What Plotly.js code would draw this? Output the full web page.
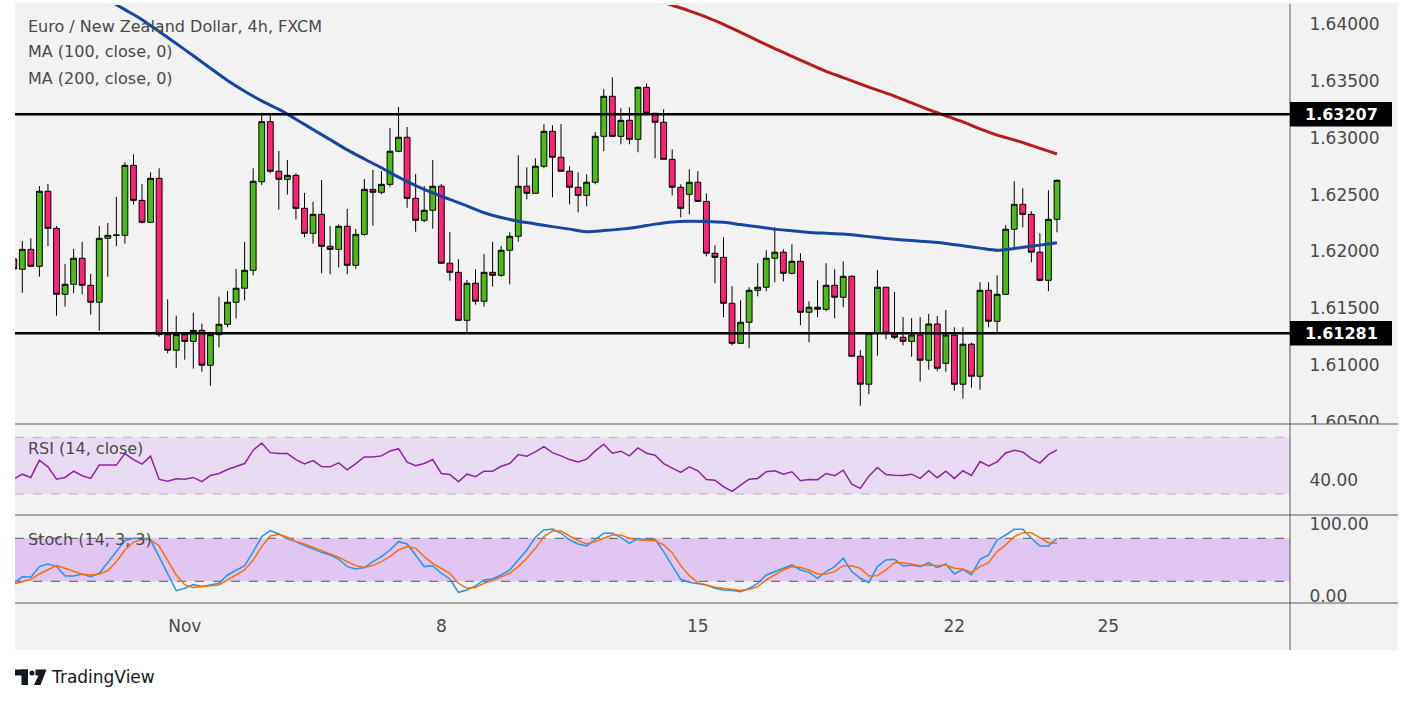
<!DOCTYPE html>
<html><head><meta charset="utf-8">
<script src="https://cdn.plot.ly/plotly-3.0.1.min.js"></script>
<style>html,body{margin:0;padding:0;background:#fff;}#chart{width:1413px;height:703px;}</style>
</head><body><div id="chart"></div>
<script>
// ---- data (bar index -1 .. 121, 4h bars) ----
const firstBar = -1;
const openP = [1.61935,1.61844,1.62019,1.61870,1.62530,1.62204,1.61624,1.61712,1.61941,1.61703,1.61554,1.62116,1.62143,1.62143,1.62758,1.62450,1.62257,1.62644,1.61269,1.61132,1.61269,1.61210,1.61307,1.61000,1.61269,1.61360,1.61554,1.61677,1.61835,1.62614,1.63142,1.62706,1.62635,1.62670,1.62380,1.62160,1.62327,1.62046,1.62019,1.62222,1.61879,1.62151,1.62547,1.62521,1.62591,1.62882,1.63005,1.62468,1.62274,1.62363,1.62574,1.61897,1.61817,1.61395,1.61721,1.61563,1.61817,1.61791,1.62011,1.62134,1.62574,1.62512,1.62750,1.63057,1.62829,1.62706,1.62565,1.62494,1.62609,1.63013,1.63365,1.63013,1.63154,1.62987,1.63444,1.63216,1.63137,1.62811,1.62565,1.62503,1.62609,1.62441,1.61985,1.61949,1.61545,1.61193,1.61378,1.61659,1.61686,1.61941,1.61994,1.61809,1.61914,1.61466,1.61510,1.61492,1.61703,1.61598,1.61782,1.61079,1.60833,1.61281,1.61686,1.61275,1.61246,1.61210,1.61266,1.61044,1.61363,1.61017,1.61266,1.60833,1.61185,1.60903,1.61659,1.61387,1.61624,1.62196,1.62415,1.62327,1.61994,1.61747,1.62283];
const highP = [1.61970,1.62092,1.62116,1.62576,1.62594,1.62224,1.61891,1.62022,1.62084,1.61803,1.62224,1.62251,1.62480,1.62785,1.62855,1.62594,1.62697,1.62732,1.61580,1.61436,1.61272,1.61462,1.61365,1.61272,1.61603,1.61653,1.61847,1.62084,1.62732,1.63221,1.63201,1.62884,1.62805,1.62688,1.62515,1.62436,1.62629,1.62224,1.62239,1.62374,1.62198,1.62638,1.62717,1.62708,1.63086,1.63271,1.63095,1.62682,1.62576,1.62805,1.62594,1.62172,1.61932,1.61750,1.61844,1.61979,1.62084,1.62048,1.62169,1.62846,1.62741,1.62820,1.63119,1.63110,1.63122,1.62750,1.62697,1.62679,1.63051,1.63427,1.63532,1.63260,1.63268,1.63453,1.63479,1.63219,1.63251,1.62899,1.62591,1.62723,1.62706,1.62512,1.62055,1.62125,1.61695,1.61571,1.61686,1.61897,1.62011,1.62213,1.62019,1.62063,1.61985,1.61563,1.61747,1.61897,1.61844,1.61914,1.61791,1.61132,1.61284,1.61838,1.61689,1.61644,1.61424,1.61413,1.61424,1.61451,1.61433,1.61486,1.61334,1.61334,1.61198,1.61730,1.61730,1.61791,1.62231,1.62618,1.62556,1.62354,1.62160,1.62539,1.62635];
const lowP = [1.61794,1.61638,1.61864,1.61779,1.62048,1.61436,1.61515,1.61633,1.61624,1.61445,1.61304,1.61779,1.62048,1.62069,1.62412,1.62248,1.62255,1.61251,1.61105,1.60978,1.61049,1.60970,1.60943,1.60820,1.61158,1.61334,1.61413,1.61571,1.61791,1.62585,1.62688,1.62368,1.62500,1.62283,1.62125,1.62069,1.61809,1.61800,1.61861,1.61800,1.61849,1.62139,1.62227,1.62503,1.62570,1.62873,1.62385,1.62174,1.62257,1.62201,1.61894,1.61744,1.61392,1.61281,1.61533,1.61515,1.61691,1.61779,1.61712,1.62087,1.62459,1.62510,1.62732,1.62477,1.62703,1.62415,1.62345,1.62398,1.62591,1.62882,1.63010,1.62943,1.62943,1.62873,1.63213,1.62820,1.62808,1.62494,1.62301,1.62327,1.62438,1.61958,1.61721,1.61422,1.61175,1.61190,1.61149,1.61606,1.61651,1.61730,1.61738,1.61800,1.61352,1.61202,1.61422,1.61475,1.61413,1.61510,1.61076,1.60644,1.60745,1.61084,1.61228,1.61228,1.61175,1.61075,1.60856,1.60961,1.60947,1.60943,1.60776,1.60706,1.60803,1.60785,1.61334,1.61281,1.61621,1.62019,1.62213,1.61905,1.61738,1.61651,1.62169];
const closeP = [1.61847,1.62019,1.61870,1.62530,1.62204,1.61624,1.61712,1.61941,1.61703,1.61554,1.62116,1.62143,1.62145,1.62758,1.62450,1.62257,1.62644,1.61269,1.61132,1.61269,1.61210,1.61307,1.61000,1.61269,1.61360,1.61554,1.61677,1.61835,1.62618,1.63142,1.62706,1.62635,1.62670,1.62380,1.62160,1.62327,1.62046,1.62019,1.62222,1.61879,1.62151,1.62547,1.62521,1.62591,1.62882,1.63005,1.62468,1.62274,1.62363,1.62574,1.61897,1.61817,1.61395,1.61721,1.61563,1.61817,1.61791,1.62011,1.62134,1.62574,1.62512,1.62750,1.63057,1.62829,1.62706,1.62565,1.62494,1.62609,1.63013,1.63365,1.63013,1.63154,1.62987,1.63444,1.63216,1.63137,1.62811,1.62565,1.62380,1.62609,1.62441,1.61985,1.61949,1.61545,1.61193,1.61378,1.61659,1.61686,1.61941,1.61994,1.61809,1.61914,1.61466,1.61510,1.61492,1.61703,1.61598,1.61782,1.61079,1.60833,1.61281,1.61686,1.61281,1.61246,1.61210,1.61266,1.61044,1.61363,1.60973,1.61266,1.60833,1.61185,1.60903,1.61659,1.61387,1.61624,1.62196,1.62415,1.62327,1.61994,1.61747,1.62283,1.62626];

// moving averages, read at sampled bar indices
const ma100Bars = [10,12,14,16,18,20,22,24,26,28,30,32,34,36,38,40,42,44,46,48,50,52,54,56,58,60,62,64,66,68,70,72,74,76,78,80,82,84,86,88,90,92,94,96,98,100,102,104,106,108,110,112,114,116,118,120,121];
const ma100 = [1.64215,1.64127,1.64039,1.63935,1.63830,1.63721,1.63612,1.63504,1.63410,1.63325,1.63250,1.63164,1.63073,1.62984,1.62894,1.62814,1.62737,1.62654,1.62580,1.62515,1.62458,1.62401,1.62341,1.62299,1.62267,1.62243,1.62219,1.62197,1.62175,1.62184,1.62197,1.62216,1.62241,1.62260,1.62266,1.62264,1.62257,1.62237,1.62217,1.62197,1.62183,1.62168,1.62161,1.62154,1.62139,1.62123,1.62108,1.62096,1.62085,1.62071,1.62051,1.62030,1.62011,1.62026,1.62047,1.62067,1.62078];
const ma200Bars = [74,76,78,80,82,84,86,88,90,92,94,96,98,100,102,104,106,108,110,112,114,116,118,120,121];
const ma200 = [1.64215,1.64166,1.64117,1.64062,1.63998,1.63928,1.63855,1.63785,1.63717,1.63650,1.63585,1.63530,1.63473,1.63420,1.63367,1.63307,1.63248,1.63194,1.63140,1.63078,1.63024,1.62981,1.62933,1.62883,1.62858];

const levels = [1.63207, 1.61281];
const levelLabels = ['1.63207', '1.61281'];

const rsi = [40.5,44.0,41.7,53.9,49.2,40.5,41.7,46.1,42.9,41.0,50.4,50.4,50.4,58.5,54.3,51.1,56.7,40.3,39.1,40.8,40.5,41.7,38.7,43.1,44.5,47.3,49.2,51.5,60.9,66.0,59.2,58.5,58.5,54.3,51.3,53.6,49.4,49.2,52.0,47.1,51.5,56.2,56.2,56.9,60.4,62.0,52.5,49.9,51.5,54.3,44.5,43.8,38.7,44.0,42.2,46.1,46.1,49.6,51.5,57.8,56.7,59.7,63.4,59.2,56.9,54.3,52.7,54.6,60.4,65.1,58.8,60.2,56.9,62.5,58.8,57.4,51.5,48.5,45.2,49.2,46.4,40.3,39.8,35.2,31.9,36.3,40.5,41.0,45.7,46.4,44.0,45.7,39.4,40.3,40.1,44.5,42.9,46.8,37.0,34.0,42.6,48.7,43.8,43.3,43.1,44.0,41.0,46.4,41.5,46.1,41.0,46.4,43.1,52.9,49.9,52.7,59.0,60.9,59.7,55.0,51.8,57.8,61.1];
const stochK = [17.0,26.5,25.6,40.5,44.2,40.5,27.4,27.4,30.2,26.5,31.2,46.0,61.4,76.7,80.0,80.0,77.7,54.4,29.8,7.0,10.2,15.3,12.6,14.9,17.2,28.8,34.9,41.8,61.4,82.3,90.7,86.0,79.1,75.3,69.8,64.6,60.4,56.7,50.7,40.5,37.2,39.1,47.4,54.4,63.7,75.3,72.1,56.7,40.5,41.8,31.2,23.2,4.6,7.9,13.5,21.9,23.2,28.8,35.8,49.8,63.7,81.4,91.6,93.0,87.0,77.7,72.1,69.3,77.7,87.0,87.0,81.4,73.0,80.0,77.7,78.6,61.4,42.8,22.8,18.6,17.2,14.9,10.2,7.9,7.0,5.6,10.2,17.2,28.8,33.5,38.1,42.8,35.8,32.5,24.2,33.5,40.5,52.1,33.5,24.2,18.1,40.5,49.8,50.7,41.4,42.8,40.5,46.0,39.1,44.2,30.2,36.7,28.8,50.7,56.7,77.7,84.6,92.5,92.5,80.0,69.3,69.3,80.0];
const stochD = [16.0,19.5,22.8,30.2,35.8,41.8,38.1,33.5,29.8,28.8,30.2,34.9,47.4,63.7,74.4,79.1,77.7,69.3,49.8,28.8,14.9,11.2,12.6,13.9,14.9,21.9,28.8,35.8,49.8,68.4,83.2,85.6,81.4,75.3,72.1,67.0,62.8,58.1,53.5,47.4,41.8,39.1,41.8,47.4,54.4,63.7,68.4,66.0,54.4,45.1,38.1,31.2,17.2,10.2,11.2,17.2,20.9,25.6,31.2,40.5,52.1,66.0,82.3,90.2,90.2,83.2,76.7,72.1,75.3,80.0,84.6,84.6,80.0,77.7,77.7,76.7,70.7,60.0,41.8,27.9,18.1,14.9,11.6,9.8,7.9,7.0,8.8,12.6,21.9,28.8,35.8,40.5,39.1,35.8,30.2,30.2,33.5,41.8,41.8,38.1,27.4,27.9,35.8,46.0,46.0,44.2,41.8,42.8,41.8,42.8,38.1,37.2,32.5,40.5,46.0,61.4,70.7,82.3,87.9,87.9,81.4,73.9,73.0];

const dayTickBars = [19, 49, 79, 109, 127];
const dayTickLabels = ['Nov', '8', '15', '22', '25'];

// ---- layout helpers (pixel -> paper) ----
const W = 1413, H = 703;
const px = v => v / W;
const py = v => 1 - v / H;
const FONT = 'DejaVu Sans';
const TXT = '#4a4a4a';
const BG = '#f2f2f2';

const bars = openP.map((_, i) => i + firstBar);

const traces = [
  {
    type: 'candlestick', x: bars, open: openP, high: highP, low: lowP, close: closeP,
    xaxis: 'x', yaxis: 'y', whiskerwidth: 0, hoverinfo: 'skip',
    increasing: {fillcolor: '#4cbb17', line: {color: '#000000', width: 1}},
    decreasing: {fillcolor: '#ff2277', line: {color: '#000000', width: 1}}
  },
  {type: 'scatter', mode: 'lines', x: ma100Bars, y: ma100, xaxis: 'x', yaxis: 'y',
   line: {color: '#1547a0', width: 3, shape: 'spline', smoothing: 0.8}, hoverinfo: 'skip'},
  {type: 'scatter', mode: 'lines', x: ma200Bars, y: ma200, xaxis: 'x', yaxis: 'y',
   line: {color: '#b71c1c', width: 3, shape: 'spline', smoothing: 0.8}, hoverinfo: 'skip'},
  {type: 'scatter', mode: 'lines', x: bars, y: rsi, xaxis: 'x', yaxis: 'y2',
   line: {color: '#8e24aa', width: 1.5}, hoverinfo: 'skip'},
  {type: 'scatter', mode: 'lines', x: bars, y: stochK, xaxis: 'x', yaxis: 'y3',
   line: {color: '#2196f3', width: 1.5}, hoverinfo: 'skip'},
  {type: 'scatter', mode: 'lines', x: bars, y: stochD, xaxis: 'x', yaxis: 'y3',
   line: {color: '#ff6d00', width: 1.5}, hoverinfo: 'skip'}
];

const shapes = [
  // chart background
  {type: 'rect', xref: 'paper', yref: 'paper', x0: px(15), x1: px(1398), y0: py(650), y1: py(3),
   fillcolor: BG, line: {width: 0}, layer: 'below'},
  // RSI band
  {type: 'rect', xref: 'paper', yref: 'y2', x0: px(15), x1: px(1290), y0: 30, y1: 70,
   fillcolor: '#eadbf4', line: {width: 0}, layer: 'below'},
  {type: 'line', xref: 'paper', yref: 'y2', x0: px(15), x1: px(1290), y0: 70, y1: 70,
   line: {color: '#b5b2b8', width: 1, dash: 'dash'}, layer: 'below'},
  {type: 'line', xref: 'paper', yref: 'y2', x0: px(15), x1: px(1290), y0: 30, y1: 30,
   line: {color: '#b5b2b8', width: 1, dash: 'dash'}, layer: 'below'},
  // Stoch band
  {type: 'rect', xref: 'paper', yref: 'y3', x0: px(15), x1: px(1290), y0: 20, y1: 80,
   fillcolor: '#e1c6f3', line: {width: 0}, layer: 'below'},
  {type: 'line', xref: 'paper', yref: 'y3', x0: px(15), x1: px(1290), y0: 80, y1: 80,
   line: {color: '#5a5560', width: 1, dash: 'dash'}, layer: 'below'},
  {type: 'line', xref: 'paper', yref: 'y3', x0: px(15), x1: px(1290), y0: 20, y1: 20,
   line: {color: '#5a5560', width: 1, dash: 'dash'}, layer: 'below'},
  // mask under first pane bottom in axis column
  {type: 'rect', xref: 'paper', yref: 'paper', x0: px(1291), x1: px(1398), y0: py(437), y1: py(424),
   fillcolor: BG, line: {width: 0}, layer: 'above'},
  // pane separators
  {type: 'line', xref: 'paper', yref: 'paper', x0: px(15), x1: px(1398), y0: py(424), y1: py(424),
   line: {color: '#5a5a5a', width: 1}},
  {type: 'line', xref: 'paper', yref: 'paper', x0: px(15), x1: px(1398), y0: py(515), y1: py(515),
   line: {color: '#5a5a5a', width: 1}},
  {type: 'line', xref: 'paper', yref: 'paper', x0: px(15), x1: px(1398), y0: py(603), y1: py(603),
   line: {color: '#5a5a5a', width: 1}},
  // price axis border
  {type: 'line', xref: 'paper', yref: 'paper', x0: px(1290), x1: px(1290), y0: py(650), y1: py(4),
   line: {color: '#5a5a5a', width: 1}},
  // TradingView logo mark
  {type: 'rect', xref: 'paper', yref: 'paper', x0: px(15), x1: px(28), y0: py(675.5), y1: py(669.5),
   fillcolor: '#131722', line: {width: 0}},
  {type: 'rect', xref: 'paper', yref: 'paper', x0: px(21.5), x1: px(28), y0: py(685), y1: py(669.5),
   fillcolor: '#131722', line: {width: 0}},
  {type: 'circle', xref: 'paper', yref: 'paper', x0: px(29.5), x1: px(34.5), y0: py(675.5), y1: py(670.5),
   fillcolor: '#131722', line: {width: 0}},
  {type: 'path', xref: 'paper', yref: 'paper',
   path: `M ${px(35.5)} ${py(669.5)} L ${px(46.5)} ${py(669.5)} L ${px(40.5)} ${py(685)} L ${px(34)} ${py(685)} L ${px(38.5)} ${py(675.5)} L ${px(35.5)} ${py(675.5)} Z`,
   fillcolor: '#131722', line: {width: 0}}
];

// support / resistance lines and their axis labels
const annotations = [];
levels.forEach((lv, k) => {
  shapes.push({type: 'line', xref: 'paper', yref: 'y', x0: px(15), x1: px(1290), y0: lv, y1: lv,
    line: {color: '#000000', width: 2.5}});
  shapes.push({type: 'rect', xref: 'paper', yref: 'y', x0: px(1290), x1: px(1392),
    y0: lv - 0.00108, y1: lv + 0.00108, fillcolor: '#000000', line: {width: 0}, layer: 'above'});
  annotations.push({xref: 'paper', yref: 'y', x: px(1341), y: lv, text: '<b>' + levelLabels[k] + '</b>',
    showarrow: false, xanchor: 'center', yanchor: 'middle', font: {family: FONT, size: 16, color: '#ffffff'}});
});

const legendLines = [
  ['Euro / New Zealand Dollar, 4h, FXCM', 26],
  ['MA (100, close, 0)', 52],
  ['MA (200, close, 0)', 78],
  ['RSI (14, close)', 448],
  ['Stoch (14, 3, 3)', 539]
];
legendLines.forEach(([t, y]) => annotations.push({xref: 'paper', yref: 'paper', x: px(26), y: py(y), text: t,
  showarrow: false, xanchor: 'left', yanchor: 'middle', font: {family: FONT, size: 16, color: TXT}}));
annotations.push({xref: 'paper', yref: 'paper', x: px(49), y: py(677), text: 'TradingView',
  showarrow: false, xanchor: 'left', yanchor: 'middle', font: {family: FONT, size: 17, color: '#131722'}});

const yCommon = {side: 'right', anchor: 'x', showgrid: false, zeroline: false, showline: false,
  ticks: 'outside', ticklen: 15, tickcolor: 'rgba(0,0,0,0)', fixedrange: true,
  tickfont: {family: FONT, size: 17, color: TXT}};

const layout = {
  width: W, height: H,
  margin: {l: 0, r: 0, t: 0, b: 0, pad: 0},
  paper_bgcolor: '#ffffff', plot_bgcolor: 'rgba(0,0,0,0)',
  showlegend: false, hovermode: false,
  boxgap: 0.2, boxgroupgap: 0.15,
  font: {family: FONT, color: TXT},
  xaxis: {domain: [px(15), px(1290)], range: [-0.854, 148.25], anchor: 'y3',
    showgrid: false, zeroline: false, showline: false,
    tickmode: 'array', tickvals: dayTickBars, ticktext: dayTickLabels,
    ticks: 'outside', ticklen: 8, tickcolor: 'rgba(0,0,0,0)',
    tickfont: {family: FONT, size: 17, color: TXT},
    rangeslider: {visible: false}, fixedrange: true},
  yaxis: Object.assign({}, yCommon, {domain: [py(424), py(5)], range: [1.604833, 1.64168],
    tickmode: 'linear', tick0: 1.605, dtick: 0.005, tickformat: '.5f'}),
  yaxis2: Object.assign({}, yCommon, {domain: [py(515), py(424)], range: [15.2, 79.4],
    tickmode: 'array', tickvals: [40], ticktext: ['40.00']}),
  yaxis3: Object.assign({}, yCommon, {domain: [py(603), py(515)], range: [-10.3, 112.5],
    tickmode: 'array', tickvals: [0, 100], ticktext: ['0.00', '100.00']}),
  shapes: shapes,
  annotations: annotations
};

Plotly.newPlot('chart', traces, layout, {staticPlot: true, displayModeBar: false});
</script>
</body></html>
